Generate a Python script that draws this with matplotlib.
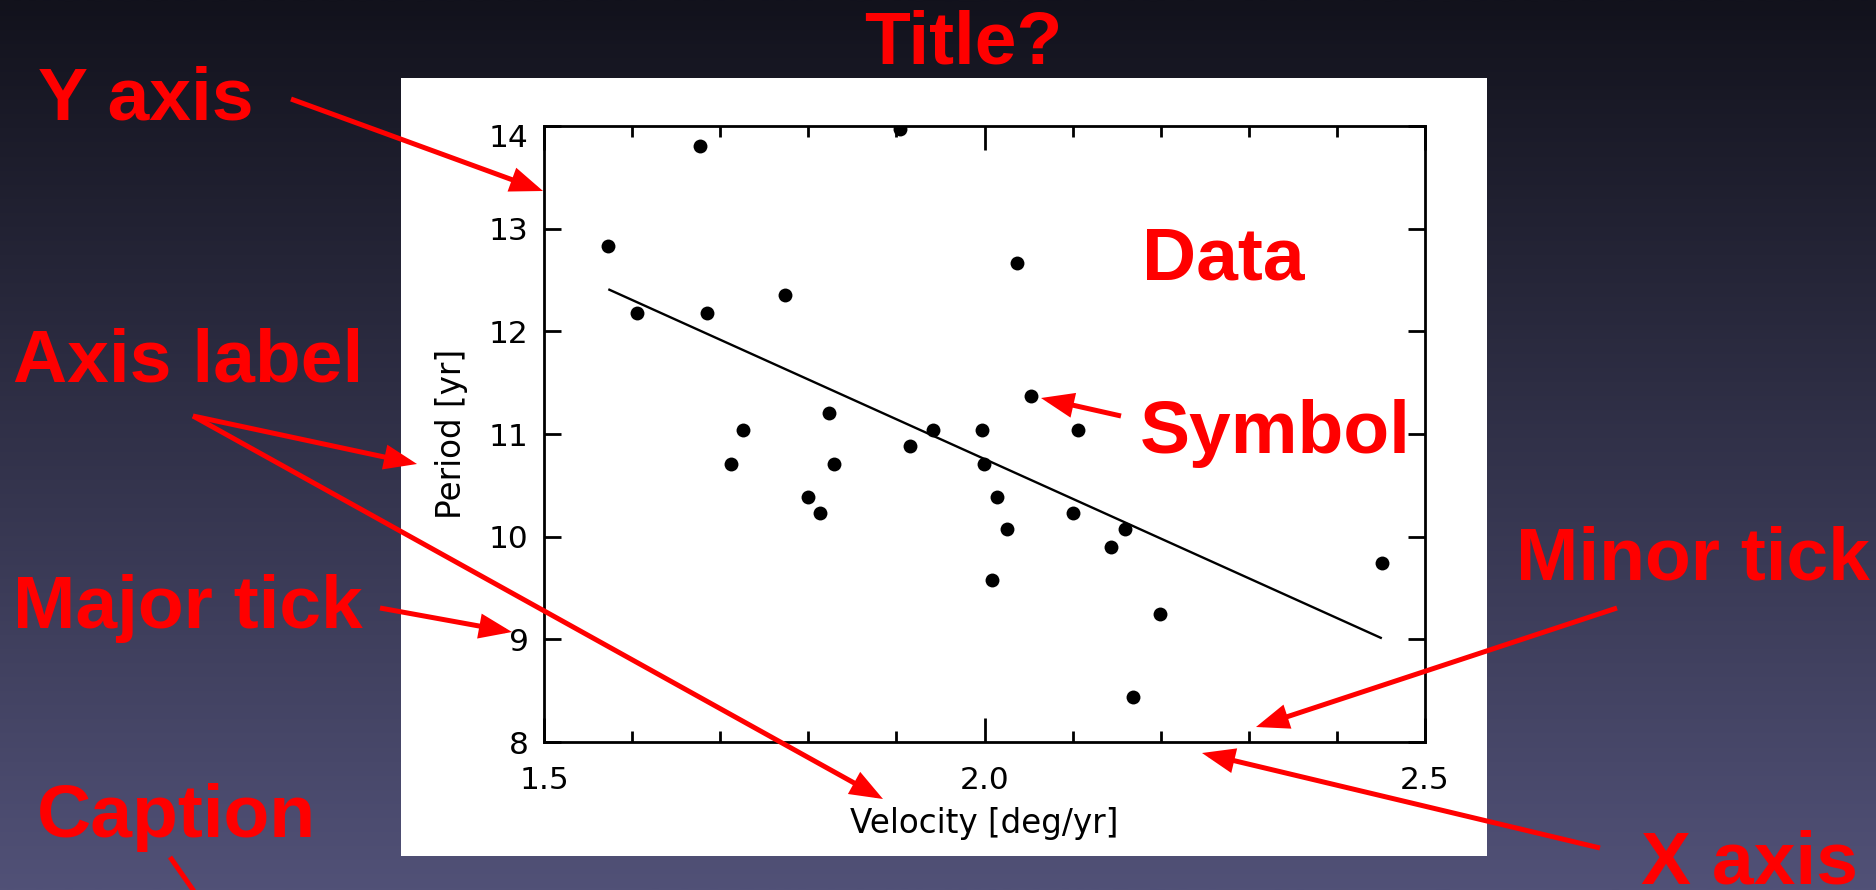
import numpy as np
import matplotlib
matplotlib.use('Agg')
import matplotlib.pyplot as plt
import matplotlib.transforms as mtransforms
from matplotlib.patches import Rectangle, FancyArrowPatch, ArrowStyle
from matplotlib.ticker import FixedLocator, MultipleLocator

# ---------------- data ----------------
velocity = [1.573, 1.605, 1.677, 1.685, 1.712, 1.726, 1.774, 1.800, 1.813, 1.823,
            1.829, 1.904, 1.916, 1.942, 1.997, 1.999, 2.014, 2.009, 2.026, 2.037,
            2.053, 2.100, 2.106, 2.144, 2.160, 2.168, 2.199, 2.451]
period = [12.83, 12.18, 13.81, 12.18, 10.71, 11.04, 12.35, 10.39, 10.23, 11.20,
          10.71, 13.97, 10.88, 11.04, 11.04, 10.71, 10.39, 9.58, 10.07, 12.67,
          11.37, 10.23, 11.04, 9.90, 10.07, 8.44, 9.25, 9.74]
fit_velocity = [1.573, 2.451]
fit_period = [12.41, 9.01]

x_major_ticks = [1.5, 2.0, 2.5]
x_tick_labels = ['1.5', '2.0', '2.5']
y_ticks = [8, 9, 10, 11, 12, 13, 14]
y_tick_labels = ['8', '9', '10', '11', '12', '13', '14']
x_label = 'Velocity [deg/yr]'
y_label = 'Period [yr]'

title_text = 'Title?'
annotation_texts = ['Y axis', 'Axis label', 'Major tick', 'Caption',
                    'Data', 'Symbol', 'Minor tick', 'X axis']

# ---------------- layout ----------------
W, H = 1876, 890
DPI = 100
RED = '#ff0000'

fig = plt.figure(figsize=(W / DPI, H / DPI), dpi=DPI)

# background gradient
bg = fig.add_axes([0, 0, 1, 1], zorder=0)
bg.axis('off')
t = np.linspace(0, 1, 256)[:, None]
top = np.array([18, 18, 28]) / 255.0
bot = np.array([81, 81, 119]) / 255.0
grad = (top[None, None, :] * (1 - t[:, :, None]) + bot[None, None, :] * t[:, :, None])
bg.imshow(grad, extent=(0, W, H, 0), aspect='auto', interpolation='bilinear')
bg.add_patch(Rectangle((401, 78), 1086, 778, facecolor='white', edgecolor='none'))
bg.set_xlim(0, W)
bg.set_ylim(H, 0)

# main plot axes
ax_left, ax_right, ax_top, ax_bot = 544, 1425, 126, 742
ax = fig.add_axes([ax_left / W, 1 - ax_bot / H, (ax_right - ax_left) / W, (ax_bot - ax_top) / H],
                  zorder=1)
ax.set_facecolor('white')
ax.plot(fit_velocity, fit_period, color='black', lw=1.7, solid_capstyle='butt')
ax.plot(velocity, period, 'o', color='black', markersize=10, markeredgewidth=0, clip_on=True)
ax.set_xlim(1.5, 2.5)
ax.set_ylim(8, 14)

ax.xaxis.set_major_locator(FixedLocator(x_major_ticks))
ax.set_xticklabels(x_tick_labels)
ax.xaxis.set_minor_locator(MultipleLocator(0.1))
ax.yaxis.set_major_locator(FixedLocator(y_ticks))
ax.set_yticklabels(y_tick_labels)

for s in ax.spines.values():
    s.set_linewidth(2.0)
    s.set_color('black')

ax.tick_params(axis='x', which='major', direction='in', length=17, width=2,
               top=True, bottom=True, pad=17, labelsize=22.5)
ax.tick_params(axis='x', which='minor', direction='in', length=8, width=2,
               top=True, bottom=True)
ax.tick_params(axis='y', which='major', direction='in', length=12, width=2,
               left=True, right=True, pad=11, labelsize=22.5)
for lab in ax.get_xticklabels() + ax.get_yticklabels():
    lab.set_family('DejaVu Sans')
# the top y label sits a little below its tick, as in the reference
top_lab = ax.get_yticklabels()[-1]
top_lab.set_transform(top_lab.get_transform() +
                      mtransforms.ScaledTranslation(0, -7 / 72, fig.dpi_scale_trans))

ax.set_xlabel(x_label, fontsize=23.5, family='DejaVu Sans', labelpad=9)
ax.set_ylabel(y_label, fontsize=23.5, family='DejaVu Sans', labelpad=15)

# overlay for annotations (pixel coordinates)
ov = fig.add_axes([0, 0, 1, 1], zorder=3)
ov.axis('off')
ov.patch.set_visible(False)

font = dict(fontsize=54, fontweight='bold', family=['Liberation Sans', 'DejaVu Sans'],
            color=RED, va='baseline')

ov.text(963, 63, title_text, ha='center', **font)
text_pos = [(38, 120), (13, 382), (13, 628), (37, 837),
            (1142, 280), (1140, 453), (1516, 580), (1641, 883)]
for s, (x, y) in zip(annotation_texts, text_pos):
    ov.text(x, y, s, ha='left', **font)

style = ArrowStyle('-|>', head_length=17, head_width=6.5)
arrows = [((291, 99), (543, 191)),
          ((193, 416), (417, 464)),
          ((193, 416), (883, 799)),
          ((380, 608), (512, 632)),
          ((1121, 416), (1041, 398)),
          ((1617, 608), (1256, 727)),
          ((1600, 848), (1202, 753))]
for a, b in arrows:
    ov.add_patch(FancyArrowPatch(a, b, arrowstyle=style, mutation_scale=1,
                                 color=RED, lw=3.6, shrinkA=0, shrinkB=0,
                                 joinstyle='miter', capstyle='butt'))
# caption pointer running off the bottom
ov.plot([170, 205], [857, 907], color=RED, lw=3.6, solid_capstyle='butt', clip_on=False)
ov.set_xlim(0, W)
ov.set_ylim(H, 0)

fig.savefig('out.png', dpi=DPI)
